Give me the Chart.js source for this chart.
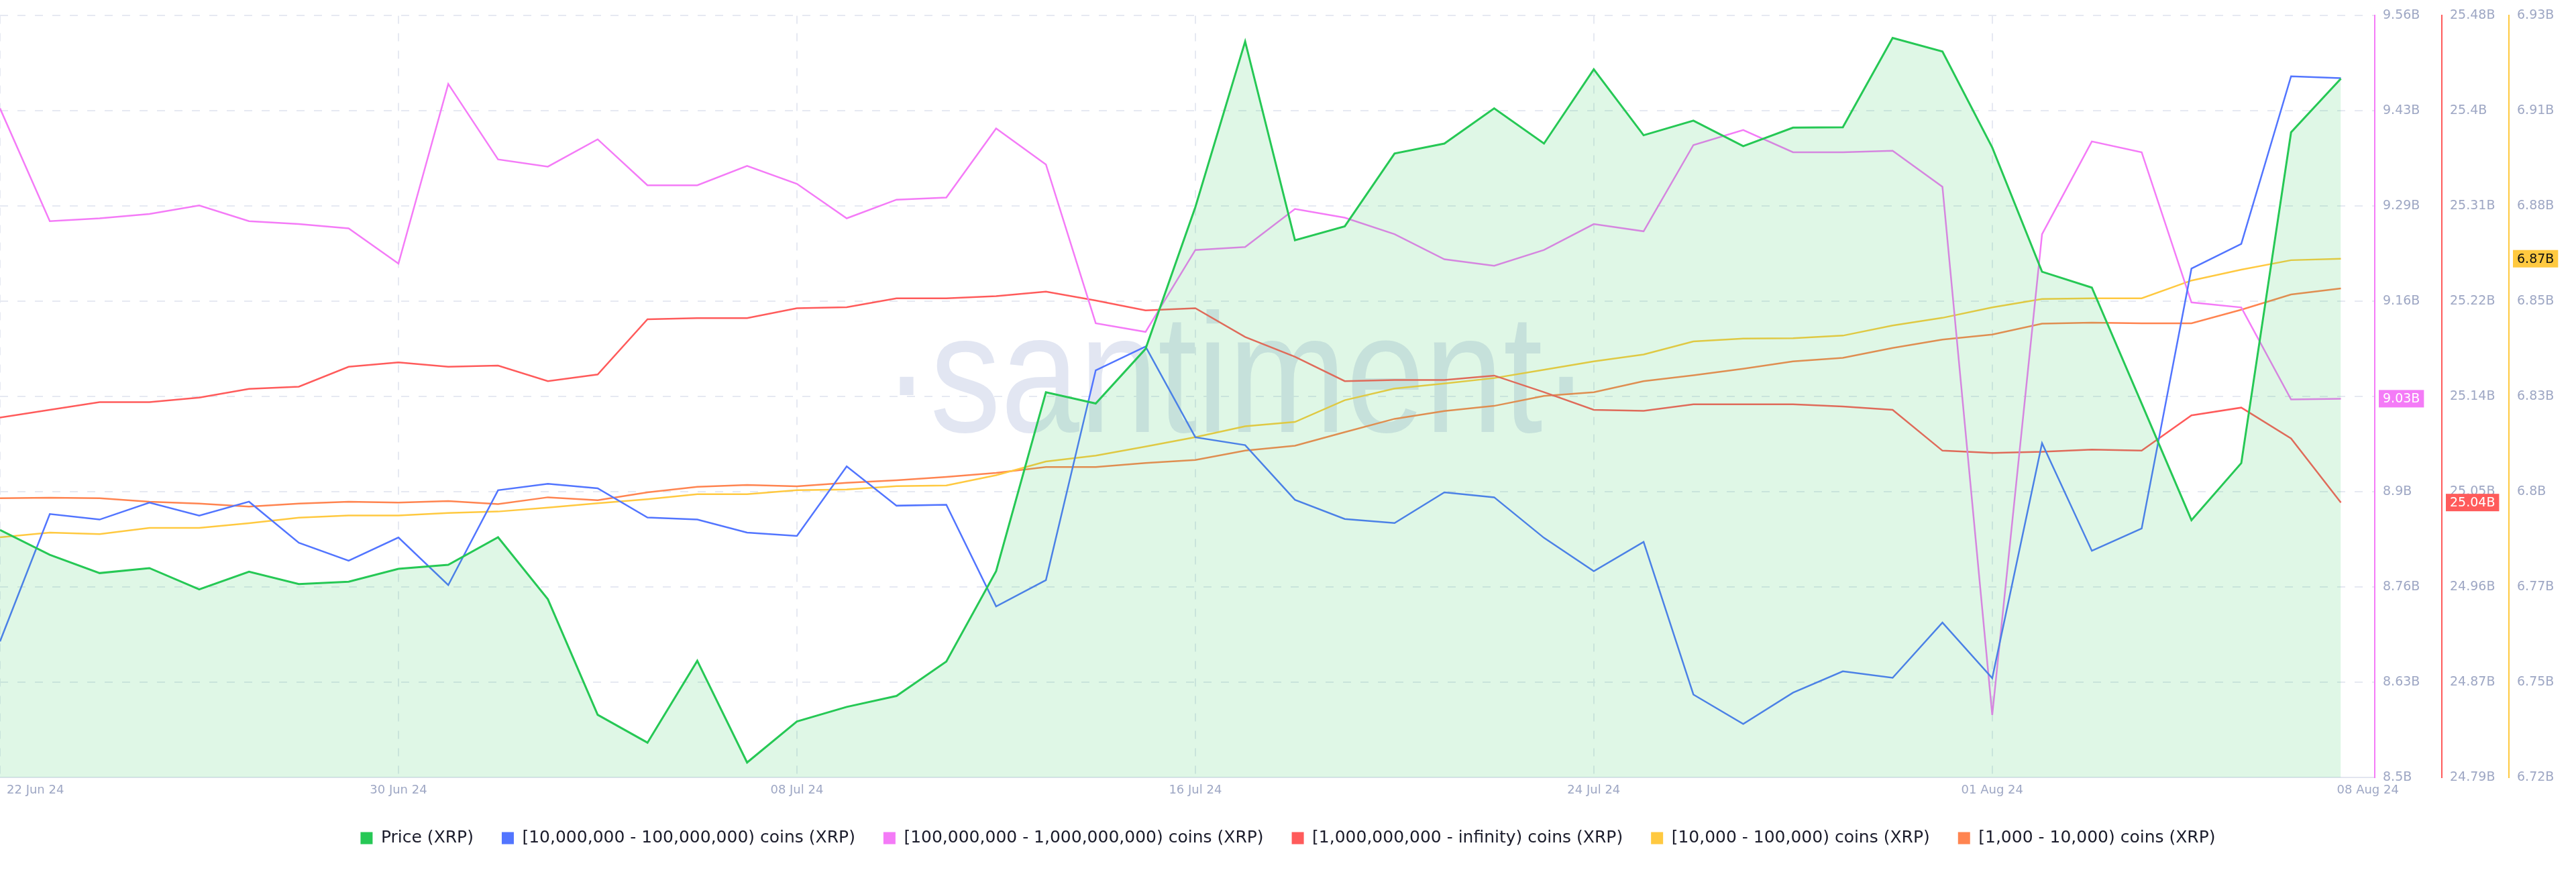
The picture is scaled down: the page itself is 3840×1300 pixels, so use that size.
<!DOCTYPE html>
<html>
<head>
<meta charset="utf-8">
<title>XRP supply distribution</title>
<script src="https://cdn.jsdelivr.net/npm/chart.js@4.4.1/dist/chart.umd.min.js"></script>
<style>
  html, body { margin: 0; padding: 0; background: #fff; }
  #wrap { width: 3840px; height: 1300px; }
</style>
</head>
<body>
<div id="wrap"><canvas id="chart" width="3840" height="1300"></canvas></div>
<script>
// days on the x axis
const dates = [
  '2024-06-22', '2024-06-23', '2024-06-24', '2024-06-25', '2024-06-26', '2024-06-27', '2024-06-28', '2024-06-29', '2024-06-30',
  '2024-07-01', '2024-07-02', '2024-07-03', '2024-07-04', '2024-07-05', '2024-07-06', '2024-07-07', '2024-07-08',
  '2024-07-09', '2024-07-10', '2024-07-11', '2024-07-12', '2024-07-13', '2024-07-14', '2024-07-15', '2024-07-16',
  '2024-07-17', '2024-07-18', '2024-07-19', '2024-07-20', '2024-07-21', '2024-07-22', '2024-07-23', '2024-07-24',
  '2024-07-25', '2024-07-26', '2024-07-27', '2024-07-28', '2024-07-29', '2024-07-30', '2024-07-31', '2024-08-01',
  '2024-08-02', '2024-08-03', '2024-08-04', '2024-08-05', '2024-08-06', '2024-08-07', '2024-08-08'
];

// price in USD
const priceXrp = [
  0.4847, 0.4772, 0.4717, 0.4732, 0.4668, 0.4721, 0.4684, 0.4691, 0.4730,
  0.4742, 0.4825, 0.4638, 0.4289, 0.4205, 0.4452, 0.4145, 0.4269,
  0.4313, 0.4346, 0.4450, 0.4723, 0.5263, 0.5229, 0.5394, 0.5822,
  0.6322, 0.5722, 0.5764, 0.5984, 0.6014, 0.6120, 0.6014, 0.6238,
  0.6039, 0.6083, 0.6006, 0.6062, 0.6063, 0.6333, 0.6292, 0.6002,
  0.5627, 0.5579, 0.5229, 0.4877, 0.5049, 0.6048, 0.6210
];

// balances in billions of XRP
const coins10mTo100m = [
  6.9714, 7.0383, 7.0354, 7.0443, 7.0375, 7.0448, 7.0232, 7.0138, 7.0260,
  7.0010, 7.0508, 7.0542, 7.0518, 7.0365, 7.0354, 7.0286, 7.0268,
  7.0633, 7.0427, 7.0432, 6.9898, 7.0036, 7.1138, 7.1263, 7.0786,
  7.0745, 7.0458, 7.0357, 7.0336, 7.0497, 7.0471, 7.0258, 7.0083,
  7.0237, 6.9435, 6.9281, 6.9445, 6.9557, 6.9523, 6.9813, 6.9521,
  7.0755, 7.0190, 7.0307, 7.1672, 7.1802, 7.2682, 7.2672
];
const coins100mTo1b = [
  9.431, 9.274, 9.278, 9.284, 9.296, 9.274, 9.270, 9.264, 9.215,
  9.465, 9.360, 9.350, 9.388, 9.324, 9.324, 9.351, 9.326,
  9.278, 9.304, 9.307, 9.403, 9.353, 9.132, 9.120, 9.234,
  9.238, 9.291, 9.279, 9.256, 9.221, 9.212, 9.234, 9.270,
  9.260, 9.380, 9.401, 9.370, 9.370, 9.372, 9.322, 8.587,
  9.256, 9.385, 9.370, 9.161, 9.154, 9.026, 9.027
];
const coins1bPlus = [
  25.116, 25.123, 25.130, 25.130, 25.134, 25.142, 25.144, 25.162, 25.166,
  25.162, 25.163, 25.149, 25.155, 25.205, 25.206, 25.206, 25.215,
  25.216, 25.224, 25.224, 25.226, 25.230, 25.222, 25.213, 25.215,
  25.189, 25.171, 25.149, 25.150, 25.150, 25.154, 25.139, 25.123,
  25.122, 25.128, 25.128, 25.128, 25.126, 25.123, 25.086, 25.084,
  25.085, 25.087, 25.086, 25.118, 25.125, 25.097, 25.039
];
const coins10kTo100k = [
  6.7884, 6.7897, 6.7893, 6.7910, 6.7910, 6.7923, 6.7938, 6.7944, 6.7944,
  6.7951, 6.7955, 6.7966, 6.7978, 6.7989, 6.8003, 6.8003, 6.8014,
  6.8016, 6.8025, 6.8027, 6.8055, 6.8093, 6.8109, 6.8134, 6.8160,
  6.8190, 6.8202, 6.8262, 6.8294, 6.8308, 6.8323, 6.8346, 6.8369,
  6.8388, 6.8424, 6.8432, 6.8433, 6.8440, 6.8468, 6.8489, 6.8518,
  6.8541, 6.8543, 6.8543, 6.8592, 6.8622, 6.8648, 6.8652
];
const coins1kTo10k = [
  1.39466, 1.39469, 1.39466, 1.39448, 1.39438, 1.39422, 1.39438, 1.39448, 1.39443,
  1.39451, 1.39435, 1.39471, 1.39456, 1.39497, 1.39526, 1.39536, 1.39529,
  1.39547, 1.39560, 1.39578, 1.39599, 1.39630, 1.39630, 1.39651, 1.39667,
  1.39716, 1.39742, 1.39813, 1.39883, 1.39924, 1.39951, 1.40003, 1.40023,
  1.40081, 1.40112, 1.40146, 1.40185, 1.40203, 1.40255, 1.40299, 1.40326,
  1.40383, 1.40388, 1.40385, 1.40385, 1.40456, 1.40536, 1.40568
];

// tick labels
const xTicks = ['2024-06-22', '2024-06-30', '2024-07-08', '2024-07-16', '2024-07-24', '2024-08-01', '2024-08-08'];
const xTickLabels = ['22 Jun 24', '30 Jun 24', '08 Jul 24', '16 Jul 24', '24 Jul 24', '01 Aug 24', '08 Aug 24'];
const pinkTicks = ['8.5B', '8.63B', '8.76B', '8.9B', '9.03B', '9.16B', '9.29B', '9.43B', '9.56B'];
const redTicks = ['24.79B', '24.87B', '24.96B', '25.05B', '25.14B', '25.22B', '25.31B', '25.4B', '25.48B'];
const yellowTicks = ['6.72B', '6.75B', '6.77B', '6.8B', '6.83B', '6.85B', '6.88B', '6.91B', '6.93B'];

const legendNames = [
  'Price (XRP)',
  '[10,000,000 - 100,000,000) coins (XRP)',
  '[100,000,000 - 1,000,000,000) coins (XRP)',
  '[1,000,000,000 - infinity) coins (XRP)',
  '[10,000 - 100,000) coins (XRP)',
  '[1,000 - 10,000) coins (XRP)'
];

const GREEN = '#26c855';
const BLUE = '#5275ff';
const PINK = '#f47bf7';
const RED = '#ff5b5b';
const YELLOW = '#ffc940';
const ORANGE = '#ff8450';

const tickColor = '#9ea7c4';
const gridColor = '#e6e9f2';
const dash = [12, 14];
const tickFont = { family: 'DejaVu Sans', size: 19 };

Chart.defaults.font.family = 'DejaVu Sans';

//8等分の目盛りを作る
function evenTicks(scale) {
  const step = (scale.max - scale.min) / 8;
  scale.ticks = [];
  for (let i = 0; i <= 8; i++) {
    scale.ticks.push({ value: scale.min + step * i });
  }
}

function rightAxis(color, min, max, labels, weight, showGrid) {
  return {
    position: 'right',
    weight: weight,
    min: min,
    max: max,
    afterBuildTicks: evenTicks,
    afterFit: function (s) { s.width = 100; },
    grid: { display: showGrid, color: gridColor, lineWidth: 2, drawTicks: false },
    border: { display: true, color: color, width: 2, dash: dash },
    ticks: {
      padding: 12,
      color: tickColor,
      font: tickFont,
      callback: function (v, i) { return labels[i]; }
    }
  };
}

function hiddenAxis(min, max) {
  return { display: false, position: 'left', min: min, max: max };
}

function series(label, values, color, axis, order) {
  return {
    label: label,
    data: values.map(function (v, i) { return { x: i, y: v }; }),
    yAxisID: axis,
    borderColor: color,
    backgroundColor: color,
    borderWidth: 2.5,
    pointRadius: 0,
    tension: 0,
    fill: false,
    order: order
  };
}

const priceSet = series(legendNames[0], priceXrp, GREEN, 'yPrice', 0);
priceSet.fill = 'start';
priceSet.backgroundColor = 'rgba(40, 201, 88, 0.15)';
priceSet.borderWidth = 3;

const pinkSet = series(legendNames[2], coins100mTo1b, PINK, 'yPink', 2);
pinkSet.badgeText = '#ffffff';
const redSet = series(legendNames[3], coins1bPlus, RED, 'yRed', 3);
redSet.badgeText = '#ffffff';
const yellowSet = series(legendNames[4], coins10kTo100k, YELLOW, 'yYellow', 4);
yellowSet.badgeText = '#111111';

//ウォーターマーク
const watermark = {
  id: 'watermark',
  beforeDatasetsDraw(chart) {
    const ctx = chart.ctx;
    const area = chart.chartArea;
    const word = 'santiment';
    ctx.save();
    ctx.font = '200px "Liberation Sans"';
    const size = 200 * 913 / ctx.measureText(word).width;
    ctx.font = size + 'px "Liberation Sans"';
    ctx.fillStyle = 'rgb(226, 230, 242)';
    ctx.textAlign = 'center';
    ctx.textBaseline = 'alphabetic';
    ctx.translate(area.left + 1843, area.top + 621);
    ctx.scale(1, 1.2);
    ctx.fillText('\u00b7' + word + '\u00b7', 0, 0);
    ctx.restore();
  }
};

//日付ラベル
const dateLabels = {
  id: 'dateLabels',
  afterDraw(chart) {
    const ctx = chart.ctx;
    const xs = chart.scales.x;
    ctx.save();
    ctx.font = '18px "DejaVu Sans"';
    ctx.fillStyle = tickColor;
    ctx.textBaseline = 'middle';
    xTicks.forEach(function (d, k) {
      const px = xs.getPixelForValue(dates.indexOf(d));
      let dx = 0;
      ctx.textAlign = 'center';
      if (k === 0) { ctx.textAlign = 'left'; dx = 10; }
      if (k === xTicks.length - 1) { ctx.textAlign = 'left'; dx = -6; }
      ctx.fillText(xTickLabels[k], px + dx, chart.chartArea.bottom + 19);
    });
    ctx.restore();
  }
};

//最新値のバッジ
const lastBadges = {
  id: 'lastBadges',
  afterDraw(chart) {
    const ctx = chart.ctx;
    ctx.save();
    ctx.font = '19px "DejaVu Sans"';
    ctx.textBaseline = 'middle';
    ctx.textAlign = 'left';
    chart.data.datasets.forEach(function (ds) {
      if (!ds.badgeText) return;
      const s = chart.scales[ds.yAxisID];
      const v = ds.data[ds.data.length - 1].y;
      const y = s.getPixelForValue(v);
      const txt = v.toFixed(2) + 'B';
      const w = ctx.measureText(txt).width;
      ctx.fillStyle = ds.borderColor;
      ctx.fillRect(s.left + 6, y - 13, w + 12, 26);
      ctx.fillStyle = ds.badgeText;
      ctx.fillText(txt, s.left + 12, y + 1);
    });
    ctx.restore();
  }
};

const chart = new Chart(document.getElementById('chart'), {
  type: 'line',
  data: {
    datasets: [
      priceSet,
      series(legendNames[1], coins10mTo100m, BLUE, 'yBlue', 1),
      pinkSet,
      redSet,
      yellowSet,
      series(legendNames[5], coins1kTo10k, ORANGE, 'yOrange', 5)
    ]
  },
  options: {
    responsive: false,
    devicePixelRatio: 1,
    animation: false,
    events: [],
    layout: { padding: { top: 13, bottom: 28, left: 0, right: 0 } },
    scales: {
      x: {
        type: 'linear',
        min: 0,
        max: dates.length - 1 + 0.68,
        afterBuildTicks: function (s) {
          s.ticks = xTicks.map(function (d) { return { value: dates.indexOf(d) }; });
        },
        afterFit: function (s) { s.height = 36; },
        ticks: { display: false },
        grid: {
          color: function (c) {
            return c.tick && c.tick.value === dates.length - 1 ? 'rgba(0,0,0,0)' : gridColor;
          },
          lineWidth: 2,
          drawTicks: false
        },
        border: { display: true, color: '#e2e5f0', width: 2, dash: dash }
      },
      yPrice: hiddenAxis(0.41, 0.64),
      yBlue: hiddenAxis(6.9, 7.3),
      yOrange: hiddenAxis(1.38, 1.42),
      yPink: rightAxis(PINK, 8.5, 9.56, pinkTicks, 1, true),
      yRed: rightAxis(RED, 24.79, 25.48, redTicks, 2, false),
      yYellow: rightAxis(YELLOW, 6.7222, 6.9322, yellowTicks, 3, false)
    },
    plugins: {
      tooltip: { enabled: false },
      legend: {
        position: 'bottom',
        labels: {
          font: { family: 'DejaVu Sans', size: 25 },
          color: '#1b1c2b',
          boxWidth: 18,
          boxHeight: 18,
          padding: 42,
          generateLabels: function (c) {
            return Chart.defaults.plugins.legend.labels.generateLabels(c).map(function (it) {
              it.fillStyle = it.strokeStyle;
              it.lineWidth = 0;
              return it;
            });
          }
        }
      }
    }
  },
  plugins: [watermark, dateLabels, lastBadges]
});
</script>
</body>
</html>
